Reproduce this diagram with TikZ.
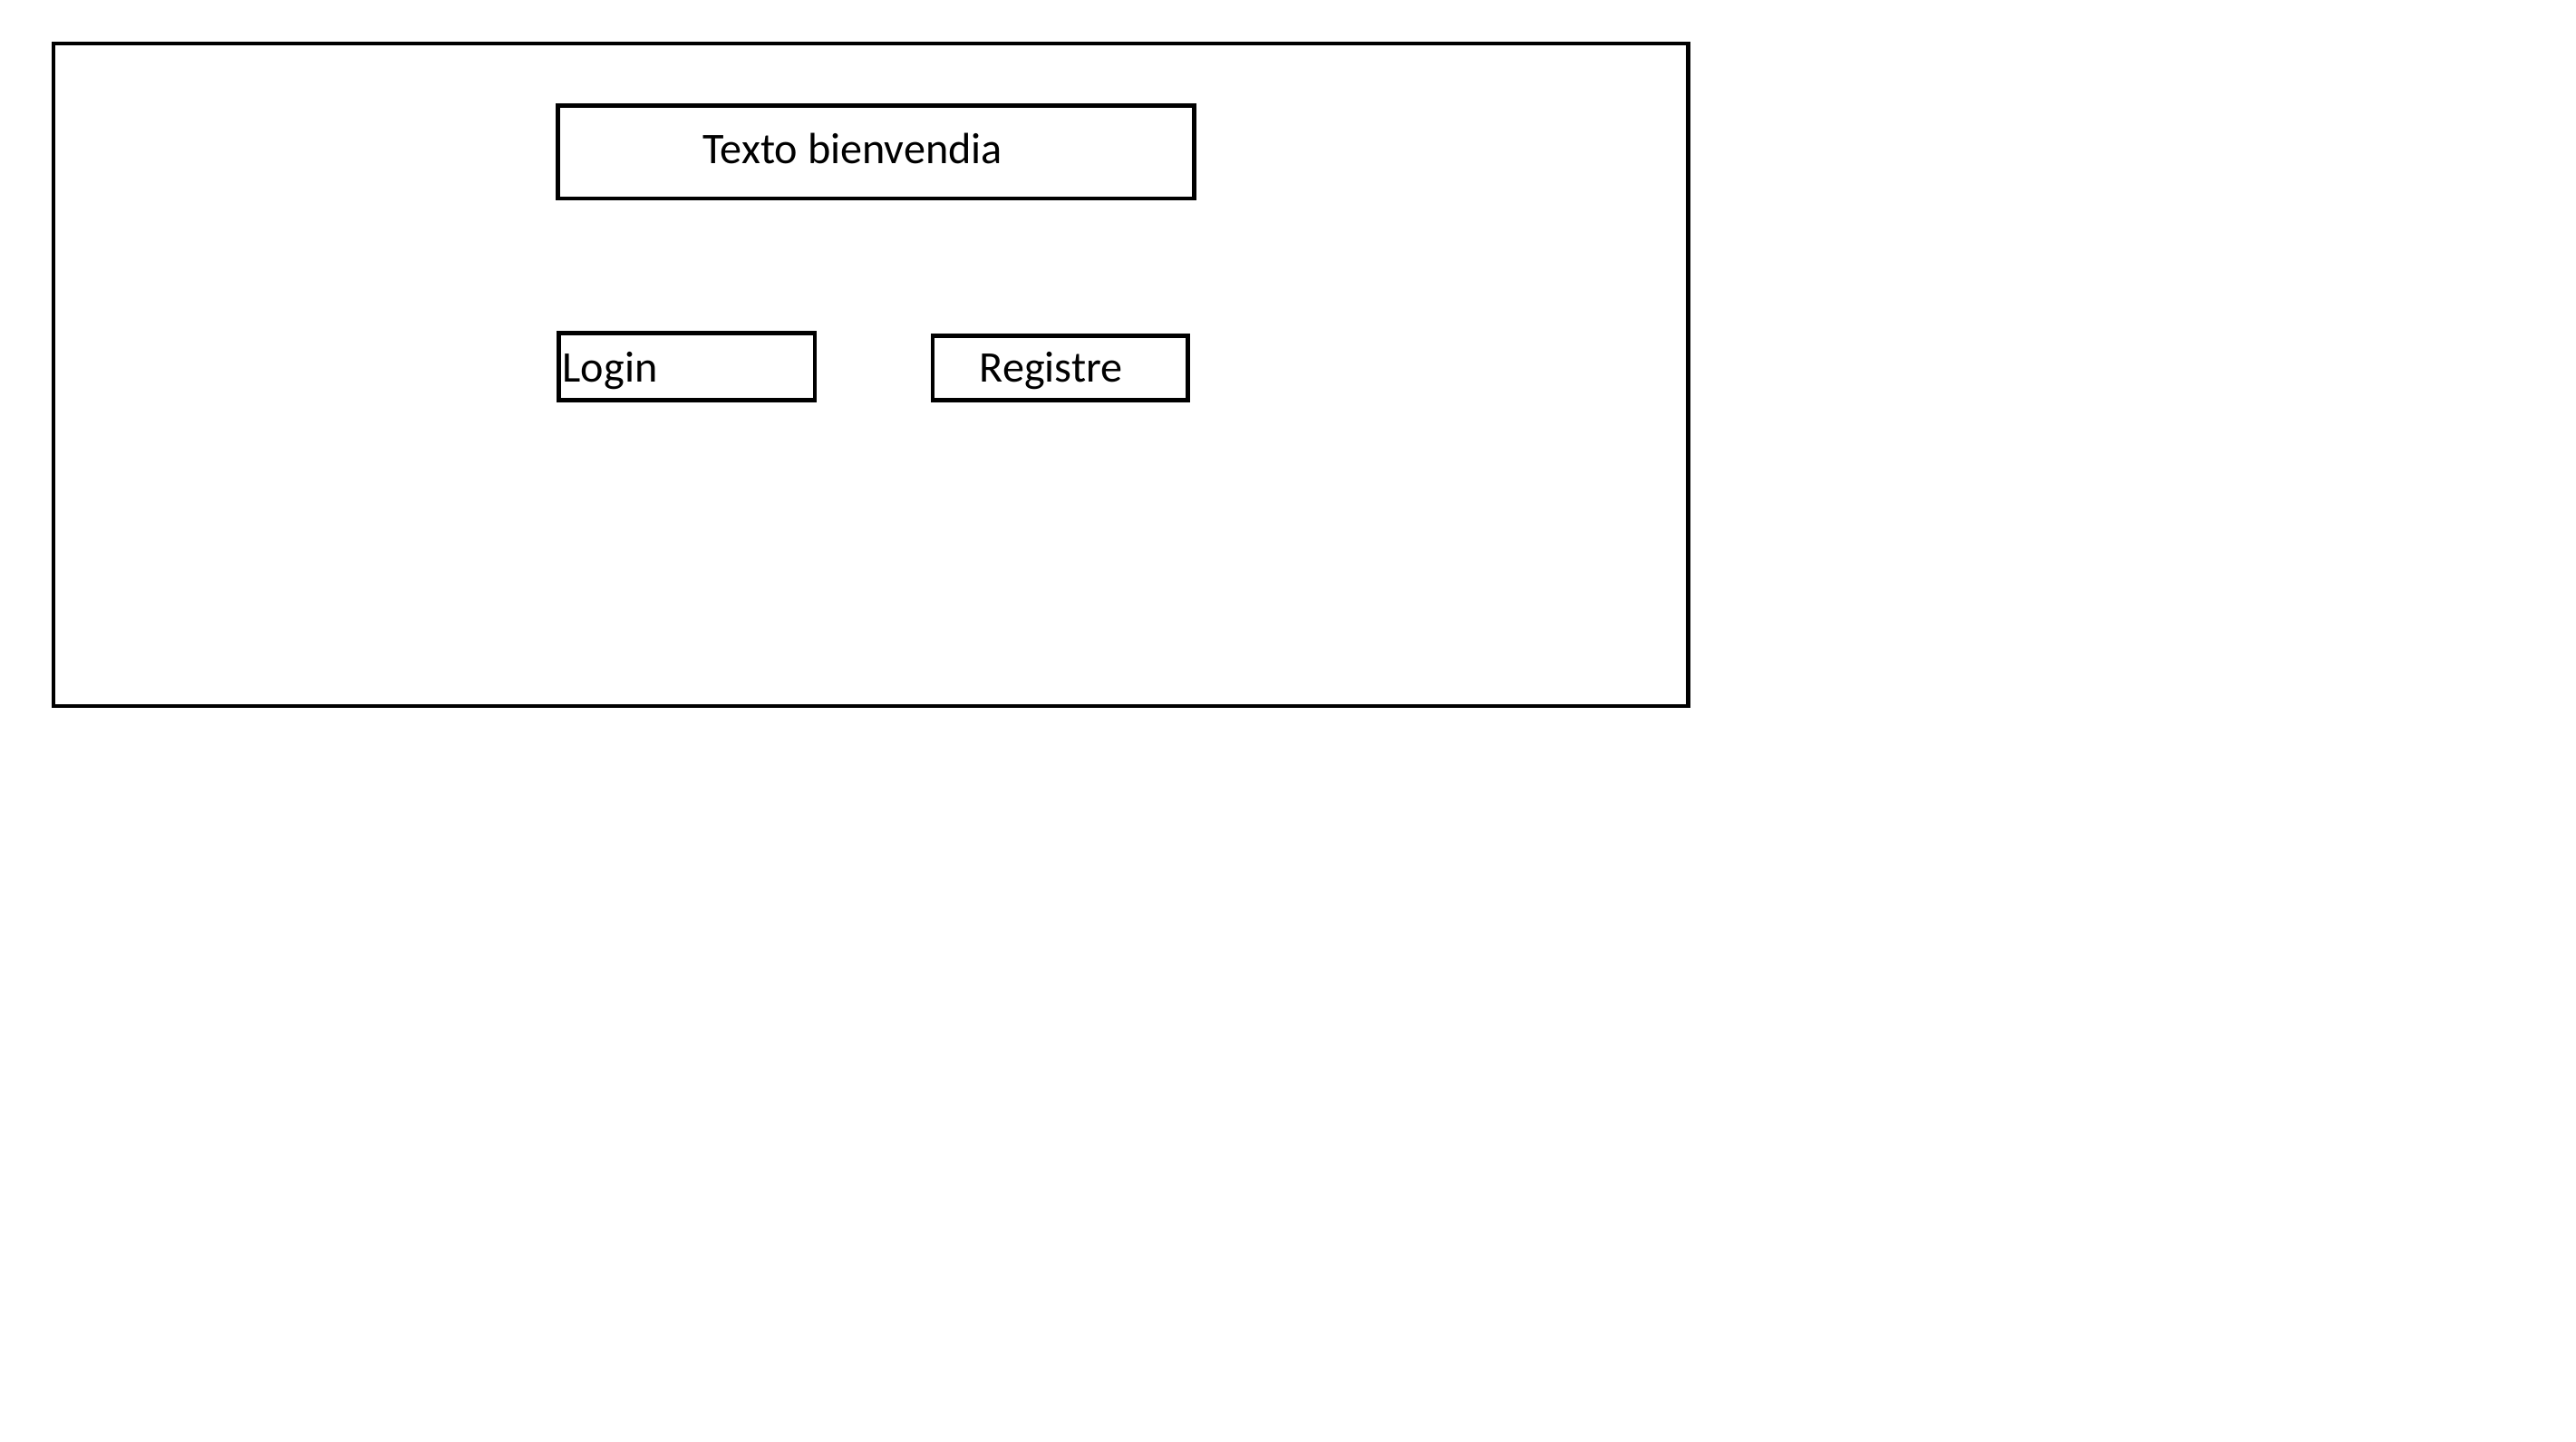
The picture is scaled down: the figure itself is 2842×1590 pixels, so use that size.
\documentclass[tikz,border=0pt]{standalone}
\usepackage{fontspec}
\setmainfont{Carlito}
\usepackage{tikz}

\tikzset{
    boxline/.style = {black, line width = 1.4pt},
    boxtext/.style = {anchor = base west, inner sep = 0pt, font = \fontsize{13.7}{16}\selectfont}
}

\begin{document}
\begin{tikzpicture}[x = 0.01cm, y = -0.01cm]
            \useasboundingbox (0, 0) rectangle (2842, 1590);

            \draw[boxline] (59, 48) rectangle (1862.5, 779);
            \draw[boxline] (615.5, 116.5) rectangle (1317.5, 219);
            \draw[boxline] (616.5, 367.5) rectangle (899, 441.5);
            \draw[boxline] (1029, 370.5) rectangle (1310.5, 441.5);

            \node[boxtext] (bienvenida) at (775, 180) {Texto bienvendia};
            \node[boxtext] (login) at (620, 421) {Login};
            \node[boxtext] (registre) at (1080, 421.5) {Registre};

        \end{tikzpicture}
\end{document}
